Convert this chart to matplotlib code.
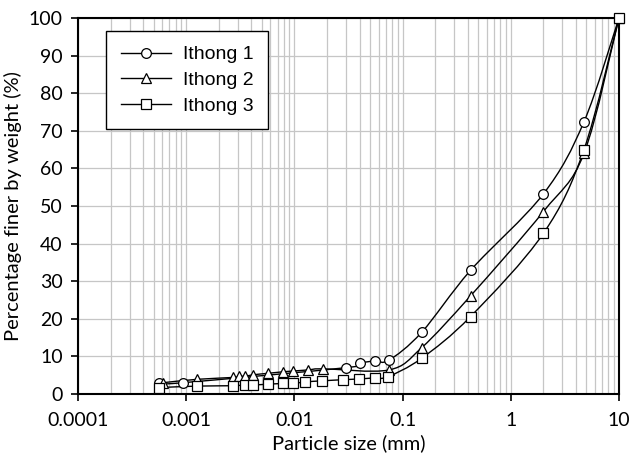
import numpy as np
import matplotlib
matplotlib.use("Agg")
import matplotlib.pyplot as plt
from matplotlib.path import Path
from matplotlib.patches import PathPatch

# particle size (mm) and percent finer
size_1 = [0.00056, 0.00093, 0.030, 0.040, 0.0556, 0.0749, 0.15, 0.425, 2.0, 4.75, 10.0]
finer_1 = [2.8, 3.0, 7.0, 8.2, 8.8, 9.0, 16.4, 32.9, 53.2, 72.4, 100.0]

size_2 = [0.00061, 0.00126, 0.00271, 0.00308, 0.00349, 0.00414, 0.0057, 0.00785,
          0.00971, 0.0134, 0.0184, 0.0749, 0.15, 0.425, 2.0, 4.75, 10.0]
finer_2 = [3.0, 3.9, 4.4, 4.7, 4.7, 5.1, 5.5, 5.9, 6.1, 6.4, 6.7, 6.4,
           12.3, 26.1, 48.5, 64.0, 100.0]

size_3 = [0.00056, 0.00126, 0.00271, 0.00349, 0.00414, 0.0057, 0.00785, 0.00971,
          0.0125, 0.018, 0.0281, 0.0395, 0.0556, 0.0733, 0.15, 0.425, 2.0, 4.75, 10.0]
finer_3 = [1.7, 2.1, 2.2, 2.4, 2.4, 2.6, 2.8, 2.8, 3.2, 3.5, 3.8, 4.0, 4.3, 4.6,
           9.5, 20.6, 42.7, 65.0, 100.0]

labels = ["Ithong 1", "Ithong 2", "Ithong 3"]
markers = ["o", "^", "s"]

plt.rcParams['font.family'] = ['Lato', 'DejaVu Sans']


def smooth_path(x, y):
    # Catmull-Rom style bezier (like Excel's smoothed line), done in log-x space
    lx = np.log10(x)
    y = np.asarray(y, float)
    n = len(lx)
    verts = [(x[0], y[0])]
    codes = [Path.MOVETO]
    for i in range(n - 1):
        i0 = max(i - 1, 0)
        i3 = min(i + 2, n - 1)
        c1x = lx[i] + (lx[i + 1] - lx[i0]) / 6
        c1y = y[i] + (y[i + 1] - y[i0]) / 6
        c2x = lx[i + 1] - (lx[i3] - lx[i]) / 6
        c2y = y[i + 1] - (y[i3] - y[i]) / 6
        verts += [(10 ** c1x, c1y), (10 ** c2x, c2y), (x[i + 1], y[i + 1])]
        codes += [Path.CURVE4] * 3
    return Path(verts, codes)


fig = plt.figure(figsize=(6.3, 4.65), dpi=100)
ax = fig.add_axes([0.1238, 0.1527, 0.8587, 0.8086])
ax.set_xscale("log")

series = [(size_1, finer_1), (size_2, finer_2), (size_3, finer_3)]
for (xs, ys), lab, m in zip(series, labels, markers):
    ax.add_patch(PathPatch(smooth_path(xs, ys), facecolor="none",
                           edgecolor="black", lw=1.0, zorder=3))
    ax.plot(xs, ys, linestyle="none", marker=m, markersize=7,
            markerfacecolor="white", markeredgecolor="black",
            markeredgewidth=0.9, zorder=4, clip_on=False)
    # legend proxy
    ax.plot([], [], color="black", lw=1.0, marker=m, markersize=7,
            markerfacecolor="white", markeredgecolor="black",
            markeredgewidth=0.9, label=lab)

ax.set_xlim(0.0001, 10)
ax.set_ylim(0, 100)
ax.set_yticks(np.arange(0, 101, 10))
ax.set_xticks([0.0001, 0.001, 0.01, 0.1, 1, 10])
ax.set_xticklabels(["0.0001", "0.001", "0.01", "0.1", "1", "10"])
ax.xaxis.set_minor_locator(matplotlib.ticker.LogLocator(base=10, subs=np.arange(2, 10)))
ax.xaxis.set_minor_formatter(matplotlib.ticker.NullFormatter())

ax.grid(True, which="major", color="#c6c6c6", lw=0.9)
ax.grid(True, which="minor", axis="x", color="#c6c6c6", lw=0.9)
ax.set_axisbelow(True)

for s in ax.spines.values():
    s.set_linewidth(1.5)
ax.tick_params(axis="both", which="major", direction="out", length=5, width=1.2,
               labelsize=14, colors="black")
ax.tick_params(axis="x", which="minor", length=0)
ax.tick_params(axis="y", pad=6)
ax.tick_params(axis="x", pad=8)

ax.set_xlabel("Particle size (mm)", fontsize=14.5, labelpad=4)
ax.set_ylabel("Percentage finer by weight (%)", fontsize=14.5, labelpad=5)

leg = ax.legend(loc="upper left", bbox_to_anchor=(0.052, 0.965), borderaxespad=0,
                fancybox=False, edgecolor="black", framealpha=1,
                handlelength=2.6, handletextpad=0.6,
                borderpad=0.75, labelspacing=0.42,
                prop={"family": "Liberation Sans", "size": 14})
leg.get_frame().set_linewidth(1.0)

fig.savefig("out.png", dpi=100)
